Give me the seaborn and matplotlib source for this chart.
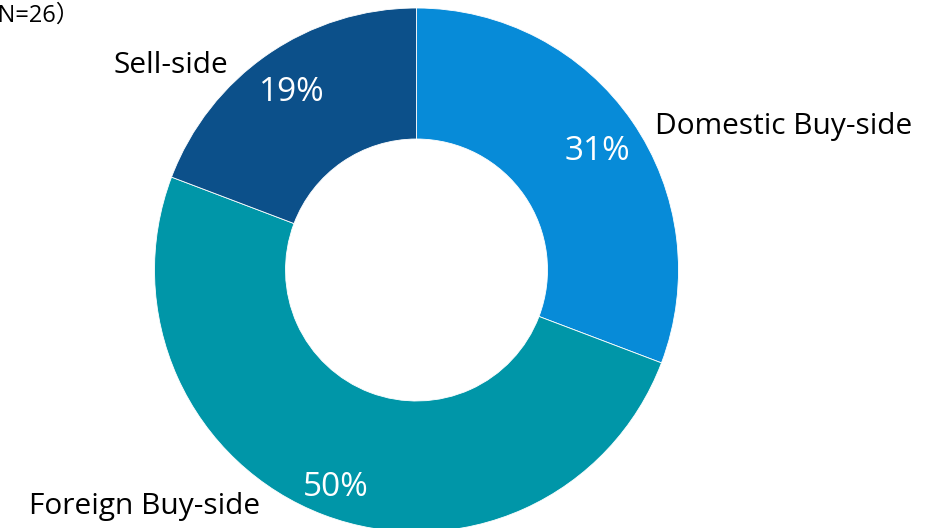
import matplotlib
matplotlib.use("Agg")
import matplotlib.pyplot as plt
import seaborn as sns
import numpy as np

# Respondent breakdown (N=26)
categories = ["Domestic Buy-side", "Foreign Buy-side", "Sell-side"]
counts = [8, 13, 5]
colors = ["#078BD8", "#0096A8", "#0C508A"]
note = "（N=26）"

sns.set_theme(style="white")
plt.rcParams["font.family"] = ["Open Sans", "Noto Sans CJK JP", "DejaVu Sans"]

fig = plt.figure(figsize=(9.41, 5.28), dpi=100)
ax = fig.add_axes([0, 0, 1, 1])
ax.set_axis_off()

wedges, _, autotexts = ax.pie(
    counts,
    colors=colors,
    startangle=90,
    counterclock=False,
    radius=1.0,
    autopct=lambda p: f"{p:.0f}%",
    pctdistance=0.84,
    wedgeprops=dict(width=0.5, edgecolor="white", linewidth=0.6),
    textprops=dict(color="white", fontsize=24),
)
# text baseline sits slightly high; nudge percentages down a touch
dy = 0.014
for i, t in enumerate(autotexts):
    x, y = t.get_position()
    if i == 1:
        x, y = x * 1.04, y * 1.04
    if i == 0:
        y -= 0.01
    t.set_position((x, y - dy))

# Category labels outside the ring
label_kw = dict(fontsize=21.5, color="black", va="center")
ax.text(0.91, 0.561 - dy, categories[0], ha="left", **label_kw)
ax.text(-1.038, -0.889 - dy, categories[1], ha="center", **label_kw)
ax.text(-0.719, 0.794 - dy, categories[2], ha="right", **label_kw)
ax.text(-1.284, 0.977 - 0.005, note, ha="right", va="center", fontsize=17, color="black")

ax.set_aspect("auto")
ax.set_xlim(-416.5 / 262, (941 - 416.5) / 262)
ax.set_ylim(-258 / 262, 270 / 262)

fig.savefig("out.png", dpi=100)
